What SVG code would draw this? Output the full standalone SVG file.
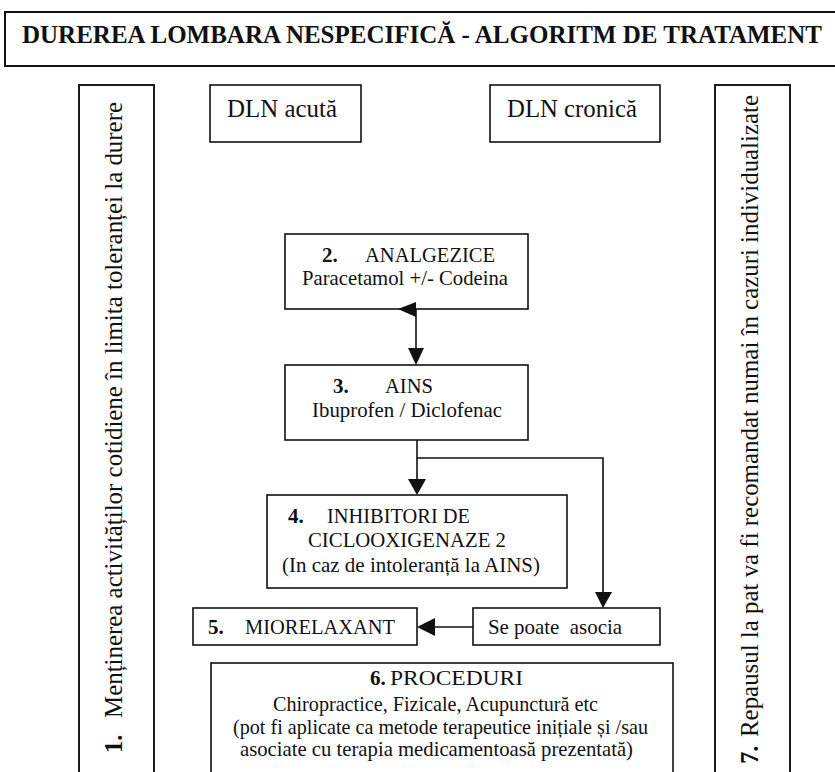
<svg xmlns="http://www.w3.org/2000/svg" width="835" height="772" viewBox="0 0 835 772" font-family="Liberation Serif" font-size="21" fill="#111111">
<style>
  .box { fill: #ffffff; stroke: #111111; stroke-width: 1.6; }
  .col { fill: #ffffff; stroke: #111111; stroke-width: 1.9; }
  .big { font-size: 24.5px; }
  .b { font-weight: bold; }
  .line { fill: none; stroke: #111111; stroke-width: 1.6; }
  .head { fill: #111111; stroke: none; }
</style>
<rect x="0" y="0" width="835" height="772" fill="#ffffff"/>

<g id="title">
  <rect class="box" x="5" y="12" width="840" height="54" style="stroke-width:2"/>
  <text class="big b" x="22" y="43" textLength="800" lengthAdjust="spacingAndGlyphs">DUREREA LOMBARA NESPECIFICĂ - ALGORITM DE TRATAMENT</text>
</g>

<g id="node1">
  <rect class="col" x="79" y="85" width="75" height="700"/>
  <text class="big" transform="translate(122,753) rotate(-90)"><tspan class="b" x="0" y="0">1.</tspan><tspan x="35" y="0" textLength="616" lengthAdjust="spacingAndGlyphs">Menținerea activităților cotidiene în limita toleranței la durere</tspan></text>
</g>

<g id="node7">
  <rect class="col" x="715" y="85" width="75" height="700"/>
  <text class="big" transform="translate(758,764) rotate(-90)"><tspan class="b" x="0" y="0">7.</tspan><tspan x="27" y="0" textLength="642" lengthAdjust="spacingAndGlyphs">Repausul la pat va fi recomandat numai în cazuri individualizate</tspan></text>
</g>

<g id="dln-acuta">
  <rect class="box" x="210" y="85" width="151" height="57"/>
  <text class="big" x="227" y="117" textLength="110" lengthAdjust="spacingAndGlyphs">DLN acută</text>
</g>

<g id="dln-cronica">
  <rect class="box" x="490" y="85" width="170" height="57"/>
  <text class="big" x="507" y="117" textLength="130" lengthAdjust="spacingAndGlyphs">DLN cronică</text>
</g>

<g id="node2">
  <rect class="box" x="285" y="234" width="243" height="75"/>
  <text><tspan class="b" x="322" y="262">2.</tspan><tspan x="365" y="262" textLength="130" lengthAdjust="spacingAndGlyphs">ANALGEZICE</tspan></text>
  <text x="302" y="285" textLength="206" lengthAdjust="spacingAndGlyphs">Paracetamol +/- Codeina</text>
</g>

<g id="node3">
  <rect class="box" x="285" y="365" width="243" height="75"/>
  <text><tspan class="b" x="333" y="393">3.</tspan><tspan x="385" y="393" textLength="48" lengthAdjust="spacingAndGlyphs">AINS</tspan></text>
  <text x="312" y="417" textLength="190" lengthAdjust="spacingAndGlyphs">Ibuprofen / Diclofenac</text>
</g>

<g id="node4">
  <rect class="box" x="267" y="495" width="300" height="93"/>
  <text><tspan class="b" x="288" y="523">4.</tspan><tspan x="327" y="523" textLength="143" lengthAdjust="spacingAndGlyphs">INHIBITORI DE</tspan></text>
  <text x="308" y="547" textLength="198" lengthAdjust="spacingAndGlyphs">CICLOOXIGENAZE 2</text>
  <text x="282" y="572" textLength="258" lengthAdjust="spacingAndGlyphs">(In caz de intoleranță la AINS)</text>
</g>

<g id="node5">
  <rect class="box" x="193" y="608" width="224" height="37"/>
  <text><tspan class="b" x="208" y="634">5.</tspan><tspan x="245" y="634" textLength="150" lengthAdjust="spacingAndGlyphs">MIORELAXANT</tspan></text>
</g>

<g id="se-poate-asocia">
  <rect class="box" x="473" y="608" width="187" height="37"/>
  <text x="488" y="634" textLength="134" lengthAdjust="spacingAndGlyphs" xml:space="preserve">Se poate  asocia</text>
</g>

<g id="node6">
  <rect class="box" x="211" y="663" width="462" height="130"/>
  <text><tspan class="b" x="370" y="685">6.</tspan><tspan x="390" y="685" textLength="133" lengthAdjust="spacingAndGlyphs">PROCEDURI</tspan></text>
  <text x="273" y="711" textLength="325" lengthAdjust="spacingAndGlyphs">Chiropractice, Fizicale, Acupunctură etc</text>
  <text x="233" y="734" textLength="415" lengthAdjust="spacingAndGlyphs">(pot fi aplicate ca metode terapeutice inițiale și /sau</text>
  <text x="240" y="756" textLength="393" lengthAdjust="spacingAndGlyphs">asociate cu terapia medicamentoasă prezentată)</text>
</g>

<g id="connectors">
  <polygon class="head" points="398,309 416,302 416,317"/>
  <line class="line" x1="416" y1="309" x2="416" y2="349"/>
  <polygon class="head" points="408,348 424,348 416,365"/>

  <line class="line" x1="417" y1="440" x2="417" y2="480"/>
  <polygon class="head" points="408,479 426,479 417,495"/>
  <polyline class="line" points="417,458 603,458 603,593"/>
  <polygon class="head" points="595,592 612,592 603,608"/>

  <line class="line" x1="473" y1="627" x2="434" y2="627"/>
  <polygon class="head" points="435,618 435,636 417,627"/>
</g>
</svg>
